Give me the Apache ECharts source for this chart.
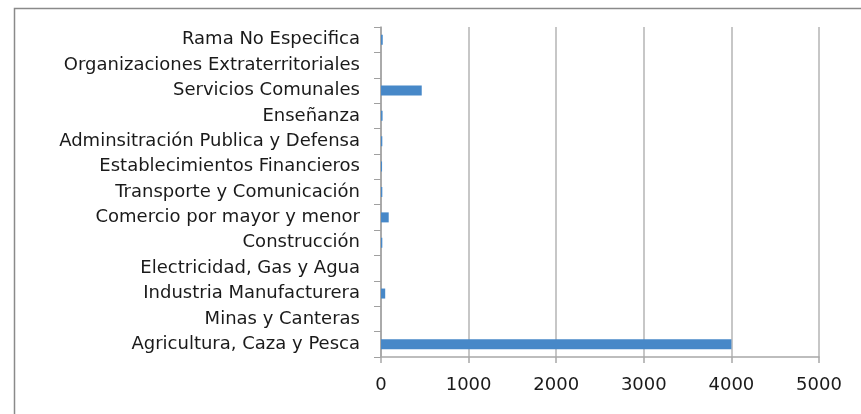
<!DOCTYPE html>
<html>
<head>
<meta charset="utf-8">
<script src="https://cdn.jsdelivr.net/npm/echarts@6/dist/echarts.min.js"></script>
<style>
  html, body { margin: 0; padding: 0; background: #fff; }
  #main { width: 861px; height: 414px; }
</style>
</head>
<body>
<div id="main"></div>
<script>
    // categories listed bottom to top, as the axis draws them
    var categories = [
        'Agricultura, Caza y Pesca',
        'Minas y Canteras',
        'Industria Manufacturera',
        'Electricidad, Gas y Agua',
        'Construcción',
        'Comercio por mayor y menor',
        'Transporte y Comunicación',
        'Establecimientos Financieros',
        'Adminsitración Publica y Defensa',
        'Enseñanza',
        'Servicios Comunales',
        'Organizaciones Extraterritoriales',
        'Rama No Especifica'
    ];
    var values = [4000, 0, 48, 0, 15, 88, 15, 12, 15, 18, 465, 0, 20];
    var axisMax = 5000;
    var axisStep = 1000;

    var chart = echarts.init(document.getElementById('main'));

    var option = {
        animation: false,
        backgroundColor: '#fff',
        textStyle: { fontFamily: 'DejaVu Sans' },
        grid: {
            left: 381,
            right: 42,
            top: 27,
            bottom: 57
        },
        xAxis: {
            type: 'value',
            min: 0,
            max: axisMax,
            interval: axisStep,
            axisLine: { show: true, lineStyle: { color: '#a8a8a8', width: 1.5 } },
            axisTick: { show: true, length: 6, lineStyle: { color: '#a8a8a8', width: 1.5 } },
            axisLabel: {
                color: '#1a1a1a', fontSize: 18, margin: 19, fontFamily: 'DejaVu Sans',
                formatter: function (v) { return String(v); }
            },
            splitLine: { show: true, lineStyle: { color: '#b4b4b4', width: 1.5 } }
        },
        yAxis: {
            type: 'category',
            data: categories,
            axisLine: { show: true, lineStyle: { color: '#a0a0a0', width: 1.5 } },
            axisTick: { show: true, length: 7, lineStyle: { color: '#a0a0a0', width: 1 } },
            axisLabel: { color: '#1a1a1a', fontSize: 18, margin: 21, fontFamily: 'DejaVu Sans' }
        },
        series: [
            {
                type: 'bar',
                data: values,
                barWidth: 10,
                itemStyle: { color: '#4788c8' }
            }
        ],
        graphic: [
            {
                type: 'rect',
                left: 12,
                top: 6,
                shape: { width: 900, height: 500 },
                style: { fill: 'none', stroke: '#8a8a8a', lineWidth: 1.5 },
                silent: true
            }
        ]
    };

    chart.setOption(option);
</script>
</body>
</html>
